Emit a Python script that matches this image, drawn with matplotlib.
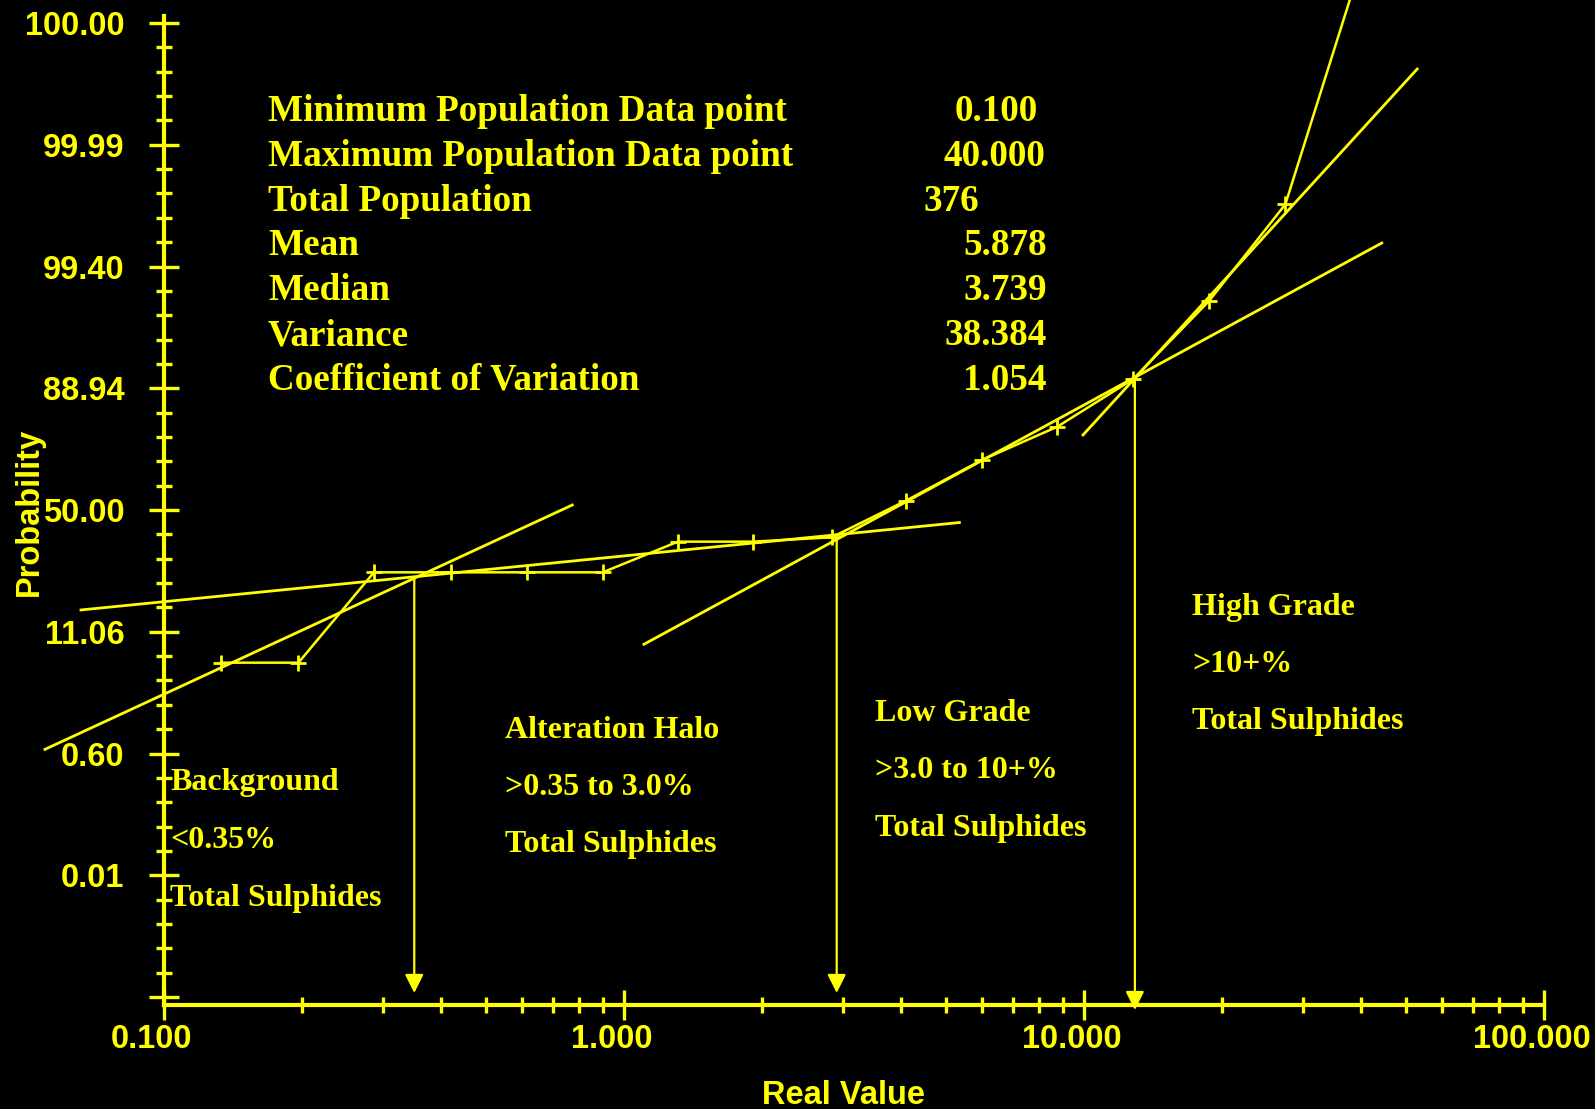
import matplotlib.pyplot as plt
import matplotlib.transforms as mtransforms
from matplotlib.ticker import FixedLocator, MultipleLocator, NullFormatter

# =====================
# data (y is given in probability-axis units, 0 = bottom tick, 8 = 100.00)
# =====================
prob_x = [0.133, 0.196, 0.286, 0.42, 0.614, 0.899, 1.31, 1.91, 2.83,
          4.10, 6.0, 8.75, 12.8, 18.7, 27.4, 40.0]
prob_y = [2.746, 2.746, 3.488, 3.488, 3.488, 3.488, 3.740, 3.740, 3.776,
          4.076, 4.411, 4.684, 5.076, 5.717, 6.511, 8.48]

# fitted population lines: (x start, x end), (y start, y end)
fit_x = [(0.0551, 0.772), (0.066, 5.36), (1.105, 44.4), (9.95, 53.0)]
fit_y = [(2.034, 4.041), (3.179, 3.897), (2.897, 6.193), (4.616, 7.622)]

# threshold arrows
arrow_x = [0.35, 2.9, 12.9]
arrow_top = [3.452, 3.770, 5.076]
arrow_tip = [0.033, 0.033, -0.107]

y_ticks = [0, 1, 2, 3, 4, 5, 6, 7, 8]
y_labels = ["", "0.01", "0.60", "11.06", "50.00", "88.94", "99.40", "99.99", "100.00"]
x_ticks = [0.1, 1, 10, 100]
x_labels = ["0.100", "1.000", "10.000", "100.000"]

stat_names = ["Minimum Population Data point", "Maximum Population Data point",
              "Total Population", "Mean", "Median", "Variance",
              "Coefficient of Variation"]
stat_values = ["0.100", "40.000", "376", "5.878", "3.739", "38.384", "1.054"]

zone_text = [
    ["Background", "<0.35%", "Total Sulphides"],
    ["Alteration Halo", ">0.35 to 3.0%", "Total Sulphides"],
    ["Low Grade", ">3.0 to 10+%", "Total Sulphides"],
    ["High Grade", ">10+%", "Total Sulphides"],
]

# =====================
# layout (pixels of the 1595x1109 figure)
# =====================
W, H = 1595, 1109
YEL = "#ffff00"
SANS = "Liberation Sans"
SERIF = "Liberation Serif"

stat_name_x = 268
stat_value_right = [1038, 1045, 979, 1047, 1047, 1047, 1047]
stat_base_y = [121, 166, 211, 255, 300, 345, 390]

zone_x = [170, 505, 875, 1192]
zone_base_y = [[790, 848, 906], [738, 795, 852], [721, 778, 836], [615, 672, 729]]


def fx(px):
    return px / W


def fy(py):
    return 1 - py / H


fig = plt.figure(figsize=(W / 100, H / 100), dpi=100, facecolor="black")
ax = fig.add_axes([fx(164), fy(1005), fx(1544) - fx(164), (1005 - 16) / H])
ax.set_facecolor("black")

ax.set_xscale("log")
ax.set_xlim(0.1, 100)
ax.set_ylim(-0.0657, 8.0575)

# axes look
for side in ["top", "right"]:
    ax.spines[side].set_visible(False)
for side in ["left", "bottom"]:
    ax.spines[side].set_color(YEL)
    ax.spines[side].set_linewidth(3)

ax.yaxis.set_major_locator(FixedLocator(y_ticks))
ax.yaxis.set_minor_locator(MultipleLocator(0.2))
ax.set_yticklabels(y_labels)
ax.set_xticks(x_ticks)
ax.set_xticklabels(x_labels)
ax.xaxis.set_minor_formatter(NullFormatter())

ax.tick_params(which="major", direction="inout", length=21, width=2.4,
               color=YEL, labelcolor=YEL, labelsize=23.5)
ax.tick_params(which="minor", direction="inout", length=11.5, width=2.4, color=YEL)
ax.tick_params(axis="y", which="major", pad=18)
ax.tick_params(axis="x", which="major", pad=3)

for lab in ax.get_xticklabels() + ax.get_yticklabels():
    lab.set_fontfamily(SANS)
    lab.set_fontweight("bold")
shift = mtransforms.ScaledTranslation(-0.12, 0, fig.dpi_scale_trans)
for lab in ax.get_xticklabels():
    lab.set_transform(lab.get_transform() + shift)

fig.text(fx(844), fy(1104), "Real Value", color=YEL, fontsize=23.5,
         fontfamily=SANS, fontweight="bold", ha="center", va="baseline")
fig.text(fx(37.5), fy(512), "Probability", color=YEL, fontsize=23.5,
         fontfamily=SANS, fontweight="bold", rotation=90,
         rotation_mode="anchor", ha="center", va="baseline")

# =====================
# lines
# =====================
ax.plot(prob_x, prob_y, color=YEL, lw=1.8, marker="+", markersize=11,
        markeredgewidth=2, clip_on=False)

for xs, ys in zip(fit_x, fit_y):
    ax.plot(xs, ys, color=YEL, lw=2.0, clip_on=False)

for x, top, tip in zip(arrow_x, arrow_top, arrow_tip):
    ax.annotate("", xy=(x, tip), xytext=(x, top), annotation_clip=False,
                arrowprops=dict(arrowstyle="-|>", color=YEL, lw=1.6,
                                mutation_scale=28, shrinkA=0, shrinkB=0))

# =====================
# text
# =====================
for name, val, right, base in zip(stat_names, stat_values, stat_value_right, stat_base_y):
    fig.text(fx(stat_name_x), fy(base), name, color=YEL, fontsize=26.7,
             fontfamily=SERIF, fontweight="bold", va="baseline")
    fig.text(fx(right), fy(base), val, color=YEL, fontsize=26.7,
             fontfamily=SERIF, fontweight="bold", va="baseline", ha="right")

for lines, x, bases in zip(zone_text, zone_x, zone_base_y):
    for line, base in zip(lines, bases):
        fig.text(fx(x), fy(base), line, color=YEL, fontsize=23,
                 fontfamily=SERIF, fontweight="bold", va="baseline")

fig.savefig("out.png", dpi=100, facecolor="black")
